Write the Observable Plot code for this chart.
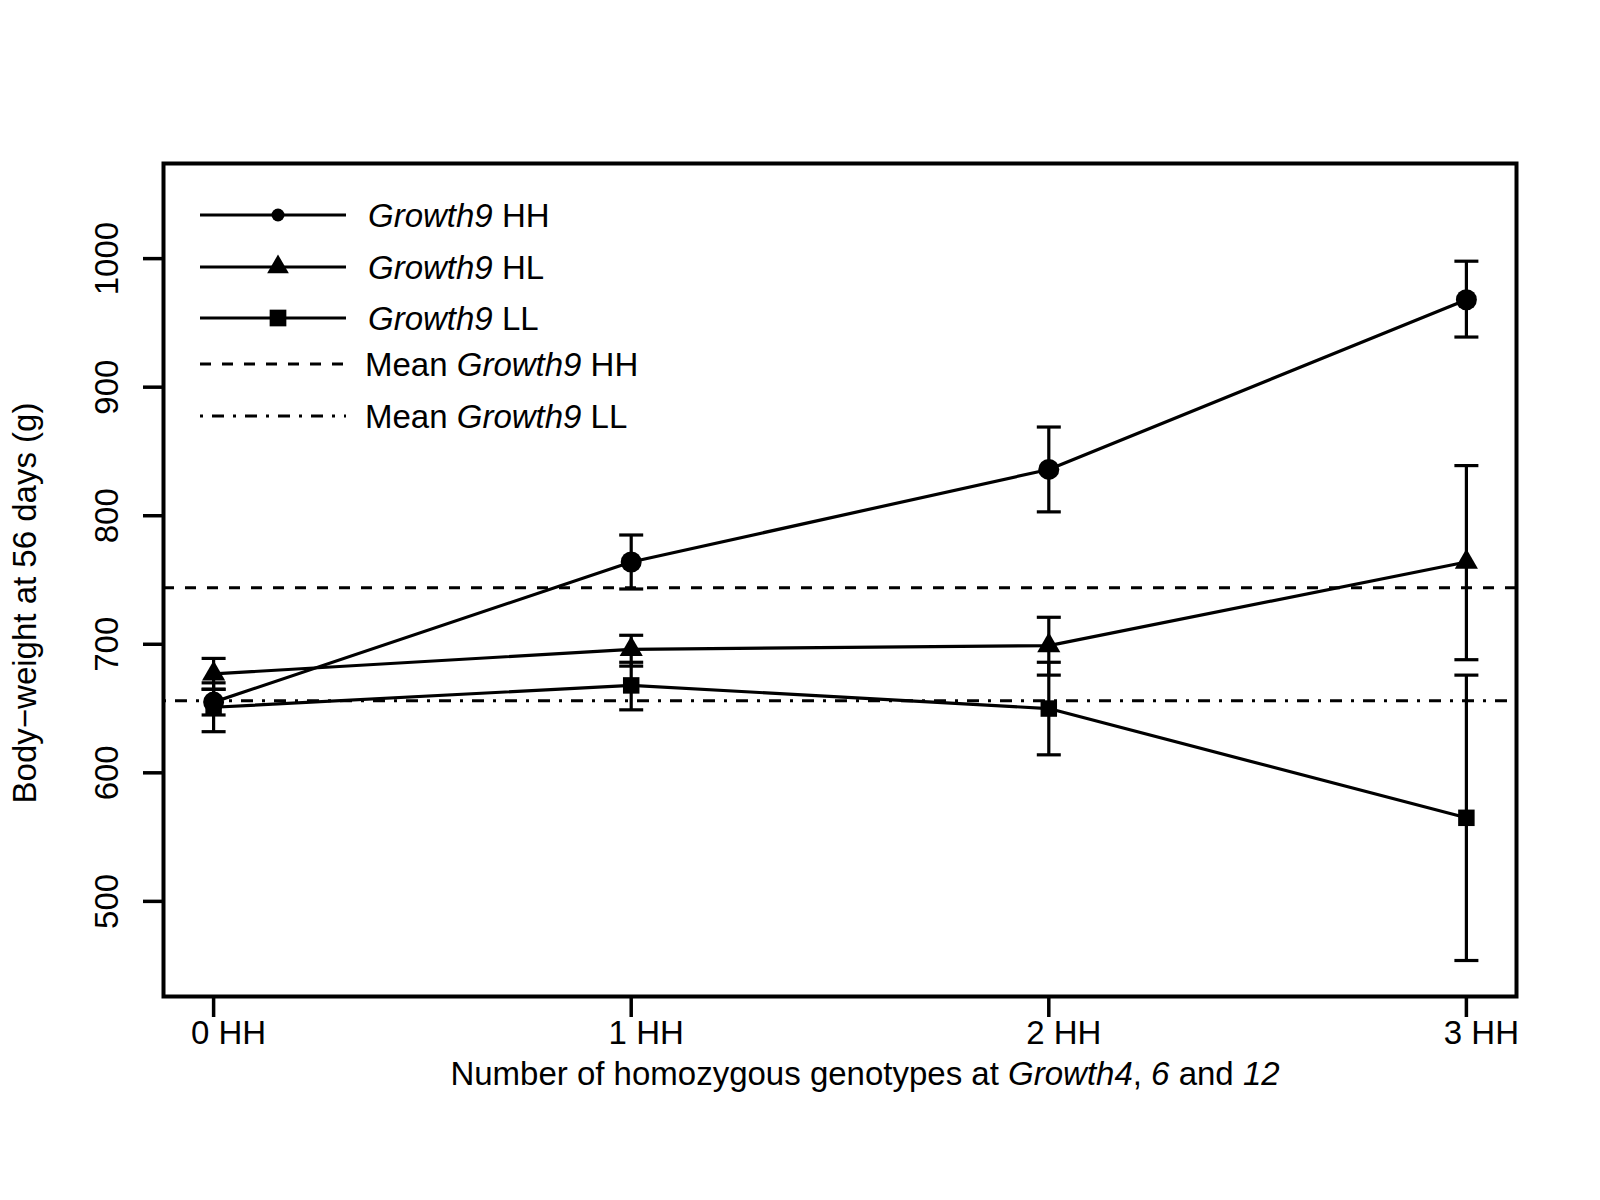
<!DOCTYPE html>
<html>
<head>
<meta charset="utf-8">
<script src="https://cdn.jsdelivr.net/npm/d3@7"></script>
<script src="https://cdn.jsdelivr.net/npm/@observablehq/plot@0.6"></script>
<style>
  body { margin: 0; background: #fff; }
  svg { display: block; }
  text { white-space: pre; }
</style>
</head>
<body>
<div id="chart"></div>
<script>
// ---- data ----
const xs = [0, 1, 2, 3];
const xTickLabels = ["0 HH", "1 HH", "2 HH", "3 HH"];
const yTicks = [500, 600, 700, 800, 900, 1000];
const seriesNames = ["Growth9 HH", "Growth9 HL", "Growth9 LL"];

const hhMean = [655, 764, 836, 968];
const hhLo   = [645, 743, 803, 939];
const hhHi   = [665, 785, 869, 998];

const hlMean = [677, 696, 699, 764];
const hlLo   = [665, 683, 676, 688];
const hlHi   = [689, 707, 721, 839];

const llMean = [651, 668, 650, 565];
const llLo   = [632, 649, 614, 454];
const llHi   = [670, 686, 686, 676];

const meanHH = 744;
const meanLL = 656;

// ---- build table ----
const means = [hhMean, hlMean, llMean];
const los = [hhLo, hlLo, llLo];
const his = [hhHi, hlHi, llHi];
const rows = [];
seriesNames.forEach((s, k) => {
  xs.forEach((x, i) => rows.push({series: s, x, y: means[k][i], lo: los[k][i], hi: his[k][i]}));
});

const symbols = ["circle", "triangle", "square"];
const radii = [10.5, 8.6, 9.3];
const capSymbol = { draw(ctx) { ctx.moveTo(-12, 0); ctx.lineTo(12, 0); } };

const FONT = "'Liberation Sans', Arial, Helvetica, sans-serif";

const chart = Plot.plot({
  width: 1600,
  height: 1200,
  marginLeft: 163,
  marginRight: 84,
  marginTop: 163,
  marginBottom: 204,
  style: { fontFamily: FONT, fontSize: "33px", background: "white", color: "black" },
  x: { domain: [-0.12, 3.12], label: null },
  y: { domain: [426, 1074], label: null },
  marks: [
    Plot.ruleY([meanHH], { stroke: "black", strokeWidth: 3, strokeDasharray: "11,11" }),
    Plot.ruleY([meanLL], { stroke: "black", strokeWidth: 3, strokeDasharray: "3,9,12,9" }),
    Plot.ruleX(rows, { x: "x", y1: "lo", y2: "hi", stroke: "black", strokeWidth: 3.2 }),
    Plot.dot(rows, { x: "x", y: "lo", symbol: capSymbol, r: 5, stroke: "black", fill: "none", strokeWidth: 3.2 }),
    Plot.dot(rows, { x: "x", y: "hi", symbol: capSymbol, r: 5, stroke: "black", fill: "none", strokeWidth: 3.2 }),
    Plot.line(rows, { x: "x", y: "y", z: "series", stroke: "black", strokeWidth: 3.2 }),
    ...seriesNames.map((s, k) =>
      Plot.dot(rows.filter(d => d.series === s), { x: "x", y: "y", symbol: symbols[k], r: radii[k], fill: "black", stroke: "none" })
    ),
    // x tick marks
    Plot.axisX({ ticks: xs, tickSize: 21, strokeWidth: 3.5, text: null, label: null }),
    // x tick labels (slightly offset right, as in the reference)
    Plot.axisX({ ticks: xs, tickSize: 0, tickPadding: 24, tickFormat: i => xTickLabels[i], fontSize: 33, dx: 15, label: null }),
    Plot.axisY({ ticks: yTicks, tickSize: 20, tickRotate: -90, tickPadding: 26, tickFormat: d => String(d), strokeWidth: 3.5, fontSize: 33, label: null }),
    Plot.frame({ stroke: "black", strokeWidth: 4 })
  ]
});

document.getElementById("chart").appendChild(chart);

// ---- legend and axis titles (layout) ----
const svg = d3.select(chart);
const g = svg.append("g").attr("font-family", FONT).attr("font-size", 33).attr("fill", "black")
  .attr("text-anchor", "start");

const legRowY = [215, 267, 318, 364, 416];
const legX1 = 200, legX2 = 346, legSymX = 278;
const legSymTypes = [d3.symbolCircle, d3.symbolTriangle, d3.symbolSquare];
const legSymSizes = [133, 204, 279];

function addLabel(sel, x, y, parts) {
  const t = sel.append("text").attr("x", x).attr("y", y).attr("dy", "0.36em").attr("text-anchor", "start");
  parts.forEach(([txt, it]) => t.append("tspan").attr("font-style", it ? "italic" : "normal").text(txt));
  return t;
}

for (let k = 0; k < 3; k++) {
  const y = legRowY[k];
  g.append("line").attr("x1", legX1).attr("x2", legX2).attr("y1", y).attr("y2", y)
    .attr("stroke", "black").attr("stroke-width", 3);
  g.append("path").attr("d", d3.symbol(legSymTypes[k], legSymSizes[k])())
    .attr("transform", `translate(${legSymX},${y})`).attr("fill", "black");
  const [name, geno] = seriesNames[k].split(" ");
  addLabel(g, 368, y, [[name, true], [" " + geno, false]]);
}
const dashes = ["11,11", "3,9,12,9"];
const meanLabels = [["Growth9", " HH"], ["Growth9", " LL"]];
for (let k = 0; k < 2; k++) {
  const y = legRowY[3 + k];
  g.append("line").attr("x1", legX1).attr("x2", legX2).attr("y1", y).attr("y2", y)
    .attr("stroke", "black").attr("stroke-width", 3).attr("stroke-dasharray", dashes[k]);
  addLabel(g, 365, y, [["Mean ", false], [meanLabels[k][0], true], [meanLabels[k][1], false]]);
}

// x axis title
const xt = g.append("text").attr("x", 865).attr("y", 1085).attr("text-anchor", "middle");
[["Number of homozygous genotypes at ", false], ["Growth4", true], [", ", false], ["6", true], [" and ", false], ["12", true]]
  .forEach(([txt, it]) => xt.append("tspan").attr("font-style", it ? "italic" : "normal").text(txt));

// y axis title
g.append("text").attr("transform", "translate(36,603) rotate(-90)").attr("text-anchor", "middle")
  .text("Body\u2212weight at 56 days (g)");
</script>
</body>
</html>
